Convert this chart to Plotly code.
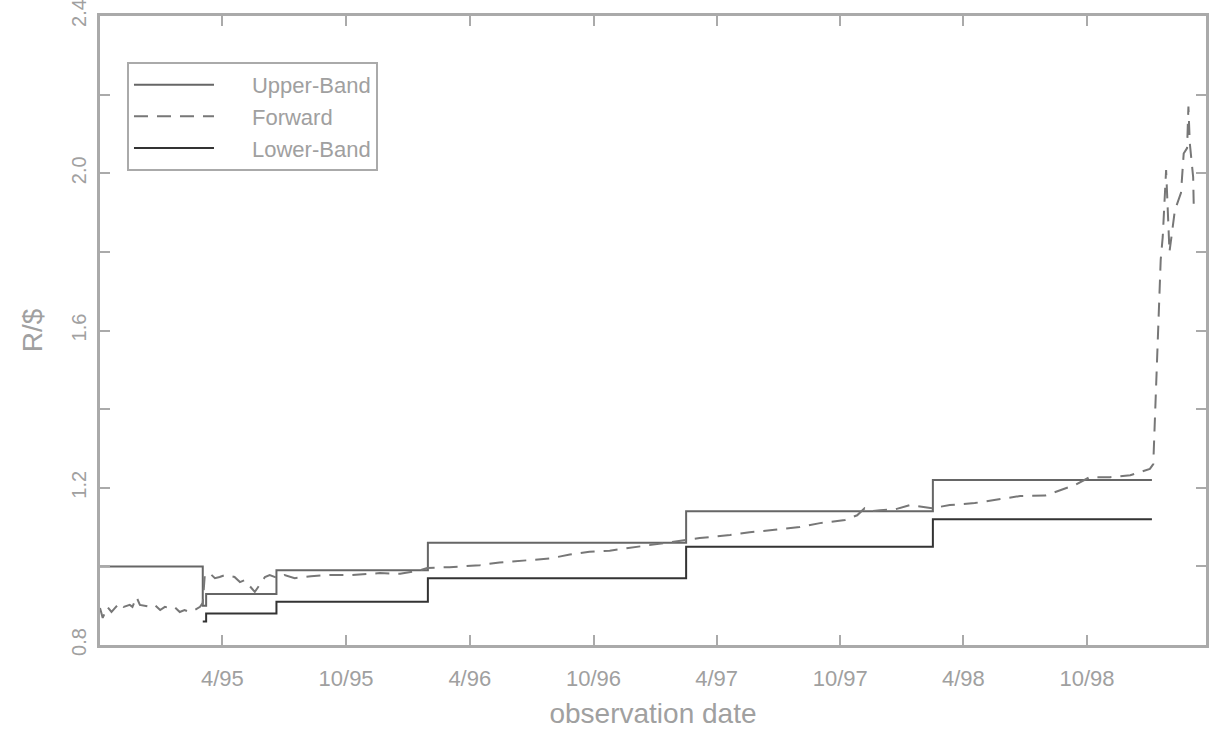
import plotly.graph_objects as go

# band limits (step functions), R/$
upper_dates = ["1994-10-02", "1995-03-03", "1995-03-08", "1995-06-20", "1996-01-30",
               "1997-02-15", "1998-02-15", "1999-01-05"]
upper_vals = [1.00, 0.90, 0.93, 0.99, 1.06, 1.14, 1.22, 1.22]

lower_dates = ["1995-03-03", "1995-03-08", "1995-06-20", "1996-01-30", "1997-02-15",
               "1998-02-15", "1999-01-05"]
lower_vals = [0.86, 0.88, 0.91, 0.97, 1.05, 1.12, 1.12]

# forward rate
fwd_dates = [
    "1994-10-02", "1994-10-06", "1994-10-13", "1994-10-19", "1994-10-24", "1994-10-31",
    "1994-11-06", "1994-11-15", "1994-11-19", "1994-11-25", "1994-11-30", "1994-12-15",
    "1994-12-22", "1994-12-30", "1995-01-06", "1995-01-13", "1995-01-20", "1995-01-28",
    "1995-02-04", "1995-02-11", "1995-02-19", "1995-02-27", "1995-03-03", "1995-03-06",
    "1995-03-13", "1995-03-21", "1995-03-28", "1995-04-05", "1995-04-19", "1995-04-27",
    "1995-05-04", "1995-05-19", "1995-05-23", "1995-06-03", "1995-06-10", "1995-06-22",
    "1995-07-02", "1995-07-17", "1995-08-10", "1995-09-07", "1995-10-10", "1995-11-20",
    "1995-12-20", "1996-01-18", "1996-01-29", "1996-03-02", "1996-04-16", "1996-05-15",
    "1996-06-29", "1996-07-28", "1996-08-27", "1996-09-25", "1996-10-25", "1996-11-24",
    "1996-12-23", "1997-01-22", "1997-02-20", "1997-03-07", "1997-04-21", "1997-05-20",
    "1997-06-26", "1997-08-02", "1997-09-01", "1997-10-08", "1997-10-26", "1997-11-06",
    "1997-11-15", "1997-11-29", "1997-12-21", "1998-01-12", "1998-02-14", "1998-03-12",
    "1998-04-18", "1998-05-25", "1998-06-24", "1998-07-31", "1998-08-22", "1998-09-13",
    "1998-10-05", "1998-11-04", "1998-12-04", "1998-12-18", "1999-01-02", "1999-01-07",
    "1999-01-11", "1999-01-15", "1999-01-18", "1999-01-21", "1999-01-26", "1999-01-31",
    "1999-02-08", "1999-02-17", "1999-02-21", "1999-02-26", "1999-02-28", "1999-03-02",
    "1999-03-07", "1999-03-08",
]
fwd_vals = [
    0.894, 0.869, 0.897, 0.884, 0.894, 0.907,
    0.897, 0.902, 0.897, 0.922, 0.902, 0.897,
    0.902, 0.889, 0.897, 0.894, 0.897, 0.884,
    0.889, 0.884, 0.889, 0.897, 0.907, 0.978,
    0.983, 0.970, 0.973, 0.978, 0.973, 0.960,
    0.965, 0.935, 0.945, 0.973, 0.978, 0.970,
    0.978, 0.970, 0.975, 0.978, 0.978, 0.983,
    0.981, 0.990, 0.996, 0.998, 1.003, 1.010,
    1.016, 1.020, 1.030, 1.037, 1.040, 1.047,
    1.055, 1.062, 1.067, 1.072, 1.080, 1.087,
    1.093, 1.100, 1.110, 1.118, 1.130, 1.148,
    1.140, 1.143, 1.145, 1.156, 1.148, 1.156,
    1.161, 1.171, 1.179, 1.180, 1.194, 1.207,
    1.227, 1.227, 1.232, 1.240, 1.248, 1.260,
    1.440, 1.610, 1.780, 1.838, 2.008, 1.800,
    1.906, 1.950, 2.050, 2.064, 2.170, 2.077,
    1.990, 1.906,
]

x_tickvals = ["1995-04-01", "1995-10-01", "1996-04-01", "1996-10-01",
              "1997-04-01", "1997-10-01", "1998-04-01", "1998-10-01"]
x_ticktext = ["4/95", "10/95", "4/96", "10/96", "4/97", "10/97", "4/98", "10/98"]
y_tickvals = [0.8, 1.2, 1.6, 2.0, 2.4]
y_ticktext = ["0.8", "1.2", "1.6", "2.0", "2.4"]

axis_col = "#aaaaaa"
text_col = "#a0a0a0"
font = "Liberation Sans, Arial, sans-serif"
gap = "\u2003\u2002"  # blank room between legend line and its label

fig = go.Figure()
fig.add_trace(go.Scatter(x=upper_dates, y=upper_vals, mode="lines", name=gap + "Upper-Band",
                         line=dict(color="#666666", width=2, shape="hv")))
fig.add_trace(go.Scatter(x=fwd_dates, y=fwd_vals, mode="lines", name=gap + "Forward",
                         line=dict(color="#777777", width=2, dash="14px,9px")))
fig.add_trace(go.Scatter(x=lower_dates, y=lower_vals, mode="lines", name=gap + "Lower-Band",
                         line=dict(color="#333333", width=2, shape="hv")))

fig.update_layout(
    width=1211, height=729,
    margin=dict(l=100, r=5, t=16, b=84),
    plot_bgcolor="white", paper_bgcolor="white",
    font=dict(family=font, color=text_col, size=22),
    legend=dict(x=0.0244, y=0.927, xanchor="left", yanchor="top",
                bordercolor=axis_col, borderwidth=2, bgcolor="white",
                itemwidth=80, font=dict(size=22, color=text_col), tracegroupgap=0),
    xaxis=dict(type="date", range=["1994-10-02", "1999-03-26"], automargin=False,
               tickvals=x_tickvals, ticktext=x_ticktext,
               ticks="inside", ticklen=10, tickwidth=2, tickcolor=axis_col,
               showline=True, linecolor=axis_col, linewidth=3, mirror="ticks",
               showgrid=False, zeroline=False, ticklabelstandoff=12,
               tickfont=dict(size=22, color=text_col),
               title=dict(text="observation date", font=dict(size=28, color=text_col),
                          standoff=16)),
    yaxis=dict(range=[0.8, 2.4], automargin=False, ticklabeloverflow="allow",
               tickvals=y_tickvals, ticktext=y_ticktext,
               ticks="inside", ticklen=10, tickwidth=2, tickcolor=axis_col,
               minor=dict(tickvals=[1.0, 1.4, 1.8, 2.2], ticks="inside",
                          ticklen=10, tickwidth=2, tickcolor=axis_col),
               tickangle=-90, ticklabelstandoff=3,
               showline=True, linecolor=axis_col, linewidth=3, mirror="ticks",
               showgrid=False, zeroline=False,
               tickfont=dict(size=20, color=text_col),
               title=dict(text="R/$", font=dict(size=28, color=text_col), standoff=18)),
)

# drop the default page margin so the figure sits at the window's corner
fig.write_html("out.html", config={"displayModeBar": False},
               post_script="document.body.style.margin='0';")
